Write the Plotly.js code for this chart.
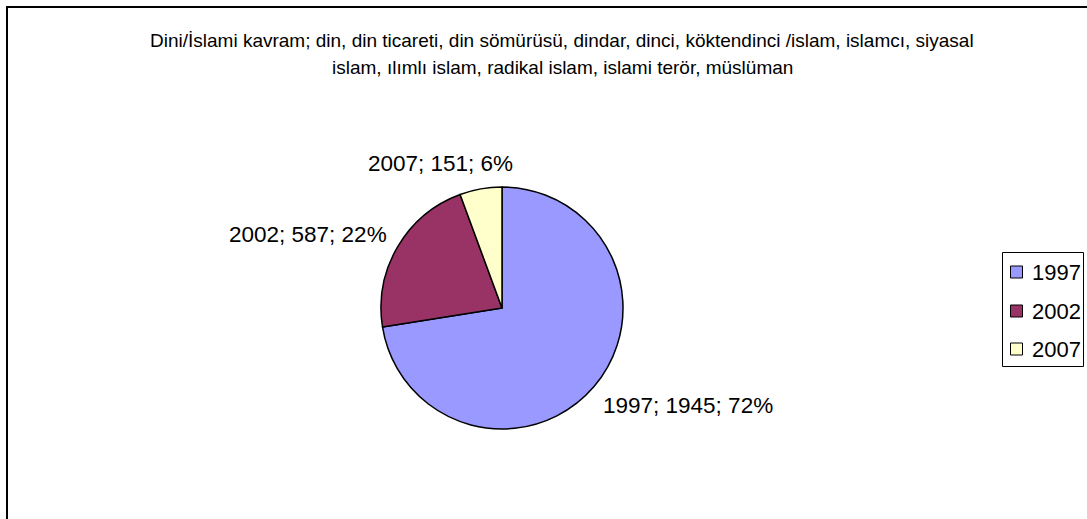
<!DOCTYPE html>
<html>
<head>
<meta charset="utf-8">
<script src="https://cdn.plot.ly/plotly-3.0.1.min.js"></script>
<style>html,body{margin:0;padding:0;background:#fff;}#chart{width:1087px;height:519px;}</style>
</head>
<body>
<div id="chart"></div>
<script>
// ---- data ----
const categories = ['1997', '2002', '2007'];
const values = [1945, 587, 151];
const colors = ['#9999FF', '#993366', '#FFFFCC'];
const titleLines = [
  'Dini/İslami kavram; din, din ticareti, din sömürüsü, dindar, dinci, köktendinci /islam, islamcı, siyasal',
  'islam, ılımlı islam, radikal islam, islami terör, müslüman'
];

// ---- layout helpers (pixel -> paper) ----
const W = 1087, H = 519;
const px = x => x / W;
const py = y => 1 - y / H;
const FONT = 'Liberation Sans, Arial, sans-serif';

const total = values.reduce((a, b) => a + b, 0);
const labelText = categories.map((c, i) => c + '; ' + values[i] + '; ' + Math.round(values[i] / total * 100) + '%');
const labelPos = [[688, 405], [308, 234], [440, 163]];
const titlePos = [[562, 40], [562, 67]];
const legendRows = [272, 311, 349];

const annotations = [];
titleLines.forEach((t, i) => annotations.push({
  text: t, xref: 'paper', yref: 'paper', x: px(titlePos[i][0]), y: py(titlePos[i][1]),
  xanchor: 'center', yanchor: 'middle', showarrow: false,
  font: {family: FONT, size: 19, color: '#000'}
}));
labelText.forEach((t, i) => annotations.push({
  text: t, xref: 'paper', yref: 'paper', x: px(labelPos[i][0]), y: py(labelPos[i][1]),
  xanchor: 'center', yanchor: 'middle', showarrow: false,
  font: {family: FONT, size: 22.5, color: '#000'}
}));
categories.forEach((c, i) => annotations.push({
  text: c, xref: 'paper', yref: 'paper', x: px(1030), y: py(legendRows[i]),
  xanchor: 'left', yanchor: 'middle', showarrow: false,
  font: {family: FONT, size: 22, color: '#000'}
}));

const shapes = [
  {type: 'rect', xref: 'paper', yref: 'paper', x0: px(7), x1: px(1100), y0: py(7), y1: py(540),
   line: {color: '#000', width: 2}, fillcolor: 'rgba(0,0,0,0)'},
  {type: 'rect', xref: 'paper', yref: 'paper', x0: px(1002.5), x1: px(1083.5), y0: py(252.5), y1: py(366.5),
   line: {color: '#000', width: 1}, fillcolor: 'rgba(0,0,0,0)'}
];
categories.forEach((c, i) => shapes.push({
  type: 'rect', xref: 'paper', yref: 'paper', x0: px(1010.5), x1: px(1022.5),
  y0: py(legendRows[i] - 6), y1: py(legendRows[i] + 6),
  line: {color: '#000', width: 1}, fillcolor: colors[i]
}));

const trace = {
  type: 'pie',
  labels: categories,
  values: values,
  sort: false,
  direction: 'clockwise',
  rotation: 0,
  marker: {colors: colors, line: {color: '#000', width: 1.5}},
  textinfo: 'none',
  hoverinfo: 'skip',
  domain: {x: [px(381), px(623)], y: [py(430), py(186)]}
};

const layout = {
  width: W, height: H,
  margin: {l: 0, r: 0, t: 0, b: 0},
  paper_bgcolor: '#fff',
  showlegend: false,
  annotations: annotations,
  shapes: shapes,
  font: {family: FONT}
};

Plotly.newPlot('chart', [trace], layout, {displayModeBar: false, staticPlot: true});
</script>
</body>
</html>
